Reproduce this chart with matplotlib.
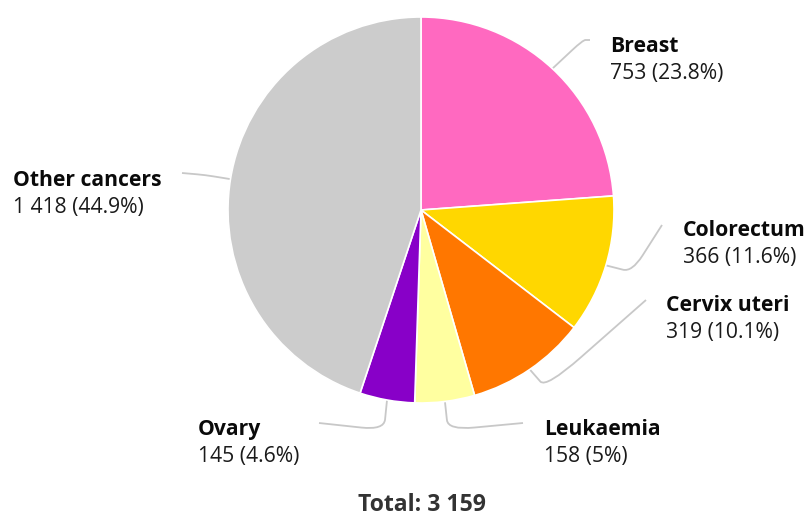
import numpy as np
import matplotlib
matplotlib.use("Agg")
from matplotlib import pyplot as plt
from matplotlib.path import Path
from matplotlib.patches import PathPatch

plt.rcParams["font.family"] = ["Open Sans", "DejaVu Sans"]

sites = ["Breast", "Colorectum", "Cervix uteri", "Leukaemia", "Ovary", "Other cancers"]
counts = [753, 366, 319, 158, 145, 1418]
shares = ["23.8%", "11.6%", "10.1%", "5%", "4.6%", "44.9%"]
colors = ["#FF69C0", "#FFD700", "#FF7700", "#FFFFA0", "#8800C8", "#CCCCCC"]
total_label = "Total: 3 159"

W, H = 808, 516
cx, cy, rad = 421, 210, 193

# label layout in pixels: left x, baseline of the name line
label_pos = [(610, 52), (683, 236), (666, 311), (544, 435), (198, 435), (13, 186)]
# connector elbow / end in pixels
elbows = [(583, 40), (632, 272), (546, 388), (448, 430), (384, 430), (205, 175)]
ends = [(590, 40), (662, 225), (646, 300), (523, 423), (319, 423), (182, 173)]


def fmt(n):
    return "{:,}".format(n).replace(",", " ")


def fy(py):
    return H - py


fig = plt.figure(figsize=(W / 100, H / 100), dpi=100)
ax = fig.add_axes([0, 0, 1, 1])
wedges, _ = ax.pie(counts, colors=colors, startangle=90, counterclock=False,
                   center=(cx, H - cy), radius=rad,
                   wedgeprops=dict(edgecolor="white", linewidth=1.2))
ax.set_xlim(0, W)
ax.set_ylim(0, H)
ax.set_aspect("equal")
ax.axis("off")

# connectors with rounded elbow
for w, (ex, ey), (tx, ty) in zip(wedges, elbows, ends):
    ang = np.deg2rad((w.theta1 + w.theta2) / 2)
    p0 = np.array([cx + rad * np.cos(ang), cy - rad * np.sin(ang)])
    p1 = np.array([ex, ey])
    p2 = np.array([tx, ty])
    a = p1 + (p0 - p1) * 0.35
    b = p1 + (p2 - p1) * 0.35
    verts = [(v[0], fy(v[1])) for v in [p0, a, p1, b, p2]]
    codes = [Path.MOVETO, Path.LINETO, Path.CURVE3, Path.CURVE3, Path.LINETO]
    ax.add_patch(PathPatch(Path(verts, codes), fill=False, edgecolor="#C8C8C8",
                           linewidth=1.3, zorder=0))

for site, n, pct, (lx, ly) in zip(sites, counts, shares, label_pos):
    ax.text(lx, fy(ly), site, fontsize=15.2, fontweight="bold",
            color="#0A0A0A", va="baseline", ha="left")
    ax.text(lx, fy(ly + 27), "{:} ({:})".format(fmt(n), pct), fontsize=15.2,
            color="#1A1A1A", va="baseline", ha="left")

ax.text(422, fy(511), total_label, fontsize=16.6, fontweight="bold",
        color="#333333", va="baseline", ha="center")

fig.savefig("out.png", dpi=100)
